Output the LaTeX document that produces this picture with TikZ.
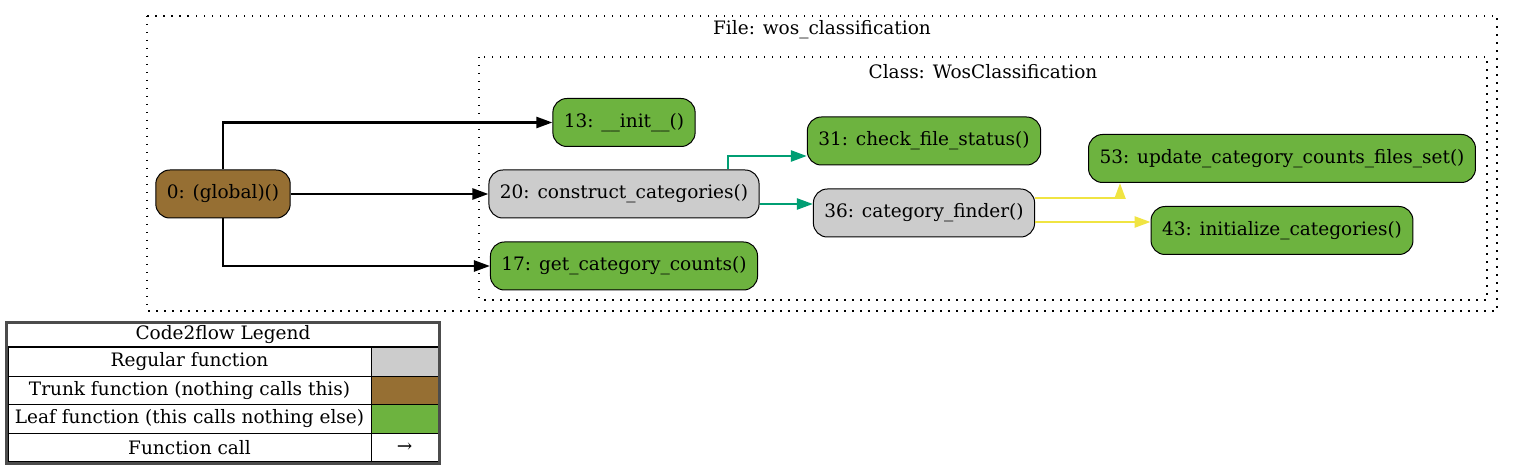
\documentclass[tikz,border=0pt]{standalone}
\usepackage{fontspec}
\setmainfont{DejaVu Serif}
\usetikzlibrary{arrows.meta}

\definecolor{leafgreen}{HTML}{6DB33F}
\definecolor{trunkbrown}{HTML}{966F33}
\definecolor{regulargray}{HTML}{CCCCCC}
\definecolor{callteal}{HTML}{009E73}
\definecolor{callyellow}{HTML}{F0E442}
\newcommand{\gvfont}{\fontsize{18.5}{21}\selectfont}

\tikzset{
  fnbox/.style={draw, line width=1pt, rounded corners=14pt, minimum height=48pt,
    inner xsep=11pt, font=\gvfont},
  leaffn/.style={fnbox, fill=leafgreen},
  trunkfn/.style={fnbox, fill=trunkbrown},
  regularfn/.style={fnbox, fill=regulargray},
  cluster/.style={draw, line width=1.4pt, dash pattern=on 1.5pt off 6.5pt},
  call/.style={line width=2.5pt, -{Triangle[length=16pt,width=11pt]}},
  legcell/.style={draw, line width=1pt, minimum height=28.5pt, inner sep=0pt, font=\gvfont},
}

\begin{document}
\begin{tikzpicture}[x=1pt,y=-1pt]
      \useasboundingbox (0,0) rectangle (1513,470);

      % File and class clusters
      \draw[cluster] (147,16) rectangle (1497,311);
      \node[font=\gvfont] (filetitle) at (822,30) {File: wos\_classification};
      \draw[cluster] (479,57) rectangle (1487,300);
      \node[font=\gvfont] (classtitle) at (983,72) {Class: WosClassification};

      % Functions
      \node[trunkfn] (global) at (223,194) {0: (global)()};
      \node[leaffn] (init) at (624,122.5) {13: \_\_init\_\_()};
      \node[regularfn] (construct) at (624,194) {20: construct\_categories()};
      \node[leaffn] (getcounts) at (624,266) {17: get\_category\_counts()};
      \node[leaffn] (checkfile) at (924,141) {31: check\_file\_status()};
      \node[regularfn] (finder) at (924,213) {36: category\_finder()};
      \node[leaffn] (updatecounts) at (1282,158.5) {53: update\_category\_counts\_files\_set()};
      \node[leaffn] (initcats) at (1282,230.5) {43: initialize\_categories()};

      % Calls
      \draw[call] (global.north) |- (init.west);
      \draw[call] (global.east) -- (construct.west);
      \draw[call] (global.south) |- (getcounts.west);
      \draw[call, callteal] ([xshift=104pt]construct.north) |- ([yshift=-15pt]checkfile.west);
      \draw[call, callteal] ([yshift=-10pt]construct.east) -- ([yshift=9pt]finder.west);
      \draw[call, callyellow] ([yshift=15pt]finder.east) -| ([xshift=-162pt]updatecounts.south);
      \draw[call, callyellow] ([yshift=-9pt]finder.east) -- ([yshift=8.5pt]initcats.west);

      % Legend
      \node[font=\gvfont] (legtitle) at (223,334.5) {Code2flow Legend};
      \node[legcell, minimum width=363pt] (regtext) at (189.5,362) {Regular function};
      \node[legcell, minimum width=67pt, fill=regulargray] (regkey) at (404.5,362) {};
      \node[legcell, minimum width=363pt] (trunktext) at (189.5,390.5) {Trunk function (nothing calls this)};
      \node[legcell, minimum width=67pt, fill=trunkbrown] (trunkkey) at (404.5,390.5) {};
      \node[legcell, minimum width=363pt] (leaftext) at (189.5,419) {Leaf function (this calls nothing else)};
      \node[legcell, minimum width=67pt, fill=leafgreen] (leafkey) at (404.5,419) {};
      \node[legcell, minimum width=363pt] (calltext) at (189.5,447.5) {Function call};
      \node[legcell, minimum width=67pt] (callkey) at (404.5,447.5) {→};
      \draw[line width=2pt] (regtext.north west) -- (regkey.north east);
      \draw[line width=3pt, black!70] (6.5,322.5) rectangle (439.5,463.5);
    \end{tikzpicture}
\end{document}
